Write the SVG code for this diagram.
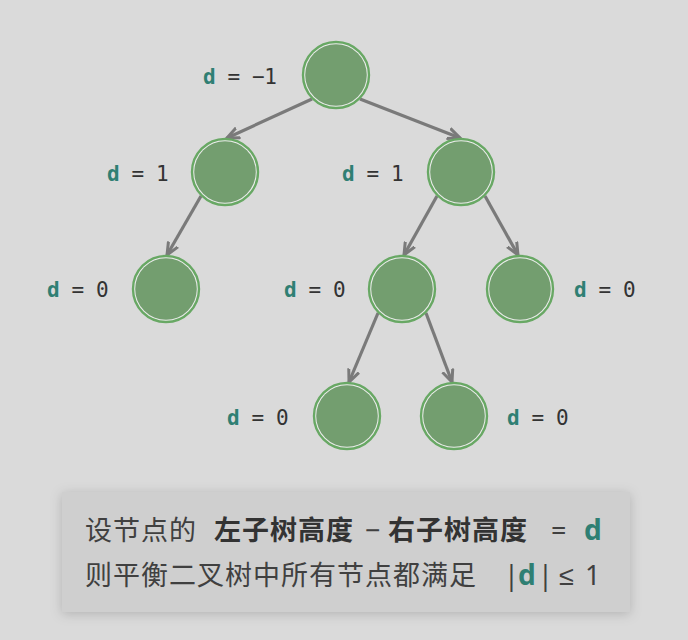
<svg xmlns="http://www.w3.org/2000/svg" width="688" height="640" viewBox="0 0 688 640">
<defs>
<style>
.bg{fill:#dadada}
.ring{fill:#ececec;stroke:#68a864;stroke-width:2.4}
.core{fill:#739e6f}
.edge{stroke:#7a7a7a;stroke-width:3.2;fill:none;marker-end:url(#arr)}
.lbl{font-family:"DejaVu Sans Mono","Liberation Mono",monospace;font-size:21px;fill:#333;letter-spacing:-0.4px}
.dv{font-weight:bold;fill:#2f7f73}
.box{fill:#cfcfcf}
.t{font-family:"Noto Sans CJK SC","Noto Sans",sans-serif;font-size:27px;fill:#404040;letter-spacing:1px}
.s{font-family:"Noto Sans","Liberation Sans",sans-serif;font-size:27px;fill:#404040}
.b{font-weight:bold;fill:#333}
.td{font-family:"Noto Sans","Noto Sans CJK SC",sans-serif;font-weight:bold;fill:#2f7f73;font-size:28px}
</style>
<marker id="arr" viewBox="0 0 14 14" refX="12.5" refY="7" markerWidth="14" markerHeight="14" markerUnits="userSpaceOnUse" orient="auto">
<path d="M0,1.5 L12.5,7 L0,12.5" fill="none" stroke="#7a7a7a" stroke-width="3" stroke-linejoin="miter"/>
</marker>
<filter id="sh" x="-10%" y="-30%" width="120%" height="160%">
<feDropShadow dx="0" dy="2" stdDeviation="6" flood-color="#000" flood-opacity="0.18"/>
</filter>
</defs>
<rect class="bg" x="0" y="0" width="688" height="640"/>

<g id="connectors">
<line class="edge" x1="312" y1="99" x2="227" y2="138"/>
<line class="edge" x1="360" y1="99" x2="460" y2="138"/>
<line class="edge" x1="201" y1="196" x2="167" y2="255"/>
<line class="edge" x1="437" y1="196" x2="404" y2="255"/>
<line class="edge" x1="485" y1="196" x2="518" y2="255"/>
<line class="edge" x1="378" y1="313" x2="349" y2="382"/>
<line class="edge" x1="426" y1="313" x2="452" y2="382"/>
</g>

<g id="n-root"><circle class="ring" cx="336" cy="75" r="33"/><circle class="core" cx="336" cy="75" r="30.8"/>
<text class="lbl" x="203" y="84"><tspan class="dv">d</tspan> = −1</text></g>
<g id="n-l"><circle class="ring" cx="225" cy="172" r="33"/><circle class="core" cx="225" cy="172" r="30.8"/>
<text class="lbl" x="107" y="181"><tspan class="dv">d</tspan> = 1</text></g>
<g id="n-r"><circle class="ring" cx="461" cy="172" r="33"/><circle class="core" cx="461" cy="172" r="30.8"/>
<text class="lbl" x="342" y="181"><tspan class="dv">d</tspan> = 1</text></g>
<g id="n-ll"><circle class="ring" cx="166" cy="289" r="33"/><circle class="core" cx="166" cy="289" r="30.8"/>
<text class="lbl" x="47" y="297"><tspan class="dv">d</tspan> = 0</text></g>
<g id="n-rl"><circle class="ring" cx="402" cy="289" r="33"/><circle class="core" cx="402" cy="289" r="30.8"/>
<text class="lbl" x="284" y="297"><tspan class="dv">d</tspan> = 0</text></g>
<g id="n-rr"><circle class="ring" cx="520" cy="289" r="33"/><circle class="core" cx="520" cy="289" r="30.8"/>
<text class="lbl" x="574" y="297"><tspan class="dv">d</tspan> = 0</text></g>
<g id="n-rll"><circle class="ring" cx="347" cy="416" r="33"/><circle class="core" cx="347" cy="416" r="30.8"/>
<text class="lbl" x="227" y="425"><tspan class="dv">d</tspan> = 0</text></g>
<g id="n-rlr"><circle class="ring" cx="454" cy="416" r="33"/><circle class="core" cx="454" cy="416" r="30.8"/>
<text class="lbl" x="507" y="425"><tspan class="dv">d</tspan> = 0</text></g>

<g id="note">
<rect class="box" x="62" y="492" width="568" height="120" filter="url(#sh)"/>
<text class="t" x="85" y="540">设节点的</text>
<text class="t b" x="214" y="540">左子树高度</text>
<text class="s" x="365" y="540">−</text>
<text class="t b" x="388" y="540">右子树高度</text>
<text class="s" x="551" y="540">=</text>
<text class="td" x="584" y="540">d</text>
<text class="s" x="85" y="585" style="font-family:'Noto Sans CJK SC',sans-serif;letter-spacing:1px">则平衡二叉树中所有节点都满足</text>
<text class="s" x="504" y="585">|</text>
<text class="td" x="518" y="585">d</text>
<text class="s" x="538" y="585">|</text>
<text class="s" x="559" y="585">≤</text>
<text class="s" x="585" y="585">1</text>
</g>
</svg>
